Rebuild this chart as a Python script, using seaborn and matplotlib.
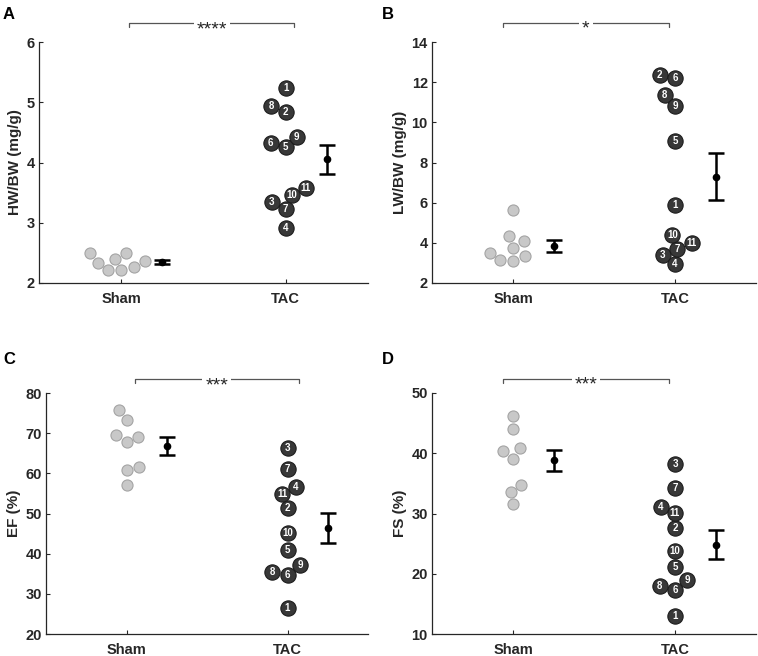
import numpy as np
import pandas as pd
import matplotlib
matplotlib.use("Agg")
import matplotlib.pyplot as plt
import seaborn as sns

# ============================================
# DATA
# ============================================

groups = ["Sham", "TAC"]
tac_ids = [1, 2, 3, 4, 5, 6, 7, 8, 9, 10, 11]

# A - heart weight / body weight
hw_sham = [2.50, 2.50, 2.36, 2.40, 2.34, 2.22, 2.26, 2.22]
hw_tac = [5.24, 4.84, 3.35, 2.92, 4.25, 4.33, 3.23, 4.94, 4.43, 3.46, 3.57]

# B - lung weight / body weight
lw_sham = [5.64, 4.32, 4.07, 3.74, 3.49, 3.32, 3.08, 3.13]
lw_tac = [5.89, 12.35, 3.41, 2.94, 9.07, 12.21, 3.69, 11.38, 10.82, 4.40, 3.99]

# C - ejection fraction
ef_sham = [75.7, 73.3, 67.7, 69.1, 69.6, 60.8, 61.6, 57.2]
ef_tac = [26.5, 51.4, 66.3, 56.6, 40.8, 34.8, 61.1, 35.4, 37.1, 45.2, 54.9]

# D - fractional shortening
fs_sham = [46.1, 44.0, 40.4, 40.8, 39.1, 34.8, 33.6, 31.6]
fs_tac = [13.0, 27.6, 38.2, 31.1, 21.2, 17.3, 34.3, 17.9, 18.9, 23.7, 30.1]

panel_letters = ["A", "B", "C", "D"]
y_labels = ["HW/BW (mg/g)", "LW/BW (mg/g)", "EF (%)", "FS (%)"]
y_ticks = [[2, 3, 4, 5, 6], [2, 4, 6, 8, 10, 12, 14],
           [20, 30, 40, 50, 60, 70, 80], [10, 20, 30, 40, 50]]
sig_stars = ["****", "*", "***", "***"]

sham_sets = [hw_sham, lw_sham, ef_sham, fs_sham]
tac_sets = [hw_tac, lw_tac, ef_tac, fs_tac]

# ============================================
# STYLE
# ============================================

sns.set_style("ticks")
plt.rcParams["font.family"] = ["Liberation Sans", "DejaVu Sans"]
plt.rcParams["xtick.direction"] = "in"
plt.rcParams["ytick.direction"] = "in"

ink = "#262626"
sham_fill = "#c8c8c8"
sham_edge = "#a4a4a4"
tac_fill = "#383838"
tac_edge = "#1c1c1c"

# swarm is laid out with a smaller marker so the dots may overlap a bit,
# like the beeswarm in the original figure
sham_layout = 8
tac_layout = 10
dot_size = 11

W, H = 758, 656
fig = plt.figure(figsize=(W / 100, H / 100), dpi=100)

# axes boxes in pixels: left, right, top, bottom
boxes = [(39, 368, 42, 283), (432, 756, 42, 283),
         (46, 368, 393, 634), (432, 756, 393, 634)]
letter_pos = [(3, 7), (382, 7), (3, 352), (382, 352)]
bracket_x = [(0.05, 1.05), (-0.06, 0.96), (0.05, 1.07), (-0.06, 0.96)]
bracket_y = [1.079, 1.08, 1.058, 1.059]

axes = []
swarm_collections = []

for i in range(4):
    l, r, t, b = boxes[i]
    ax = fig.add_axes([l / W, 1 - b / H, (r - l) / W, (b - t) / H])
    axes.append(ax)

    df_sham = pd.DataFrame({"group": "Sham", "value": sham_sets[i]})
    df_tac = pd.DataFrame({"group": "TAC", "value": tac_sets[i], "id": tac_ids})

    sns.swarmplot(data=df_sham, x="group", y="value", order=groups,
                  color=sham_fill, edgecolor=sham_edge, linewidth=0.8,
                  size=sham_layout, ax=ax)
    sham_pts = ax.collections[-1]
    sns.swarmplot(data=df_tac, x="group", y="value", order=groups,
                  color=tac_fill, edgecolor=tac_edge, linewidth=0.8,
                  size=tac_layout, ax=ax)
    tac_pts = ax.collections[-1]
    swarm_collections.append((sham_pts, tac_pts))

    # mean +/- SEM next to each group
    for g, vals in enumerate([sham_sets[i], tac_sets[i]]):
        vals = np.asarray(vals)
        m = vals.mean()
        se = vals.std(ddof=1) / np.sqrt(len(vals))
        ax.errorbar(g + 0.25, m, yerr=se, fmt="o", color="black",
                    ms=4.5, capsize=5.5, elinewidth=1.8, capthick=1.8,
                    zorder=4)

    ax.set_xlim(-0.5, 1.5)
    ax.set_ylim(y_ticks[i][0], y_ticks[i][-1])
    ax.set_yticks(y_ticks[i])
    ax.set_xlabel("")
    ax.set_ylabel(y_labels[i], fontsize=11, fontweight="bold",
                  color=ink, labelpad=3)

    sns.despine(ax=ax)
    for side in ["left", "bottom"]:
        ax.spines[side].set_color(ink)
        ax.spines[side].set_linewidth(0.9)

    ax.tick_params(axis="both", colors=ink, length=3, width=0.8,
                   labelsize=10.5)
    ax.tick_params(axis="x", pad=6.5)
    ax.tick_params(axis="y", pad=3)
    for lab in ax.get_xticklabels() + ax.get_yticklabels():
        lab.set_fontweight("bold")

    # significance bracket
    x0, x1 = bracket_x[i]
    yl = bracket_y[i]
    yt = yl - 0.017
    tr = ax.get_xaxis_transform()
    ax.plot([x0, x0, x1, x1], [yt, yl, yl, yt], color="#555555",
            lw=0.9, transform=tr, clip_on=False)
    ax.annotate(sig_stars[i], xy=((x0 + x1) / 2, yl), xycoords=tr,
                xytext=(0, -8), textcoords="offset points",
                ha="center", va="baseline", fontsize=14, color=ink,
                annotation_clip=False,
                bbox=dict(boxstyle="square,pad=0.15", fc="white", ec="none"))

    # panel letter
    lx, ly = letter_pos[i]
    fig.text(lx / W, 1 - ly / H, panel_letters[i], ha="left", va="top",
             fontsize=12, fontweight="bold", color="black")

# swarm positions are resolved at draw time
fig.canvas.draw()

for ax, (sham_pts, tac_pts) in zip(axes, swarm_collections):
    # freeze the swarm layout, then show the dots at full size
    for pts in (sham_pts, tac_pts):
        if "draw" in pts.__dict__:
            del pts.draw
        pts.set_sizes([dot_size ** 2])
    for (x, y), n in zip(tac_pts.get_offsets(), tac_ids):
        ax.text(x, y, str(n), ha="center", va="center", color="white",
                fontsize=7, fontweight="bold", zorder=5)

fig.savefig("out.png", dpi=100)
